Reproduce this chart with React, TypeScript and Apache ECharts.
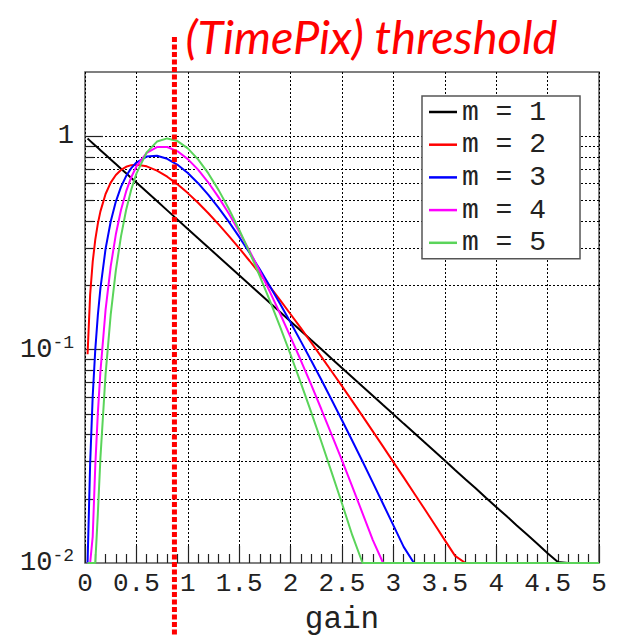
import React, { useEffect, useRef } from 'react';
import * as echarts from 'echarts';

// gain values (bin positions)
const GAIN = [
  0.025, 0.05, 0.075, 0.1, 0.125, 0.15, 0.2, 0.25, 0.3, 0.35, 0.4, 0.45,
  0.5, 0.6, 0.7, 0.8, 0.9, 1.0, 1.1, 1.2, 1.3, 1.4, 1.5, 1.6, 1.7, 1.8, 1.9,
  2.0, 2.1, 2.2, 2.3, 2.4, 2.5, 2.6, 2.7, 2.8, 2.9, 3.0, 3.1, 3.2, 3.3, 3.4,
  3.5, 3.6, 3.7, 3.8, 3.9, 4.0, 4.1, 4.2, 4.3, 4.4, 4.5, 4.6, 4.7, 4.8, 4.9, 5.0,
];

const M1 = [
  0.9753, 0.9512, 0.9277, 0.9048, 0.8825, 0.8607, 0.8187, 0.7788, 0.7408, 0.7047, 0.6703, 0.6376,
  0.6065, 0.5488, 0.4966, 0.4493, 0.4066, 0.3679, 0.3329, 0.3012, 0.2725, 0.2466, 0.2231, 0.2019, 0.1827, 0.1653, 0.1496,
  0.1353, 0.1225, 0.1108, 0.1003, 0.0907, 0.0821, 0.0743, 0.0672, 0.0608, 0.055, 0.0498, 0.045, 0.0408, 0.0369, 0.0334,
  0.0302, 0.0273, 0.0247, 0.0224, 0.0202, 0.0183, 0.0166, 0.015, 0.0136, 0.0123, 0.0111, 0.0101, 0.01, 0.01, 0.01, 0.01,
];
const M2 = [
  0.0951, 0.181, 0.2582, 0.3275, 0.3894, 0.4445, 0.5363, 0.6065, 0.6586, 0.6952, 0.7189, 0.7318,
  0.7358, 0.7229, 0.6905, 0.6461, 0.5951, 0.5413, 0.4875, 0.4355, 0.3862, 0.3405, 0.2987, 0.2609, 0.2269, 0.1967, 0.17,
  0.1465, 0.126, 0.108, 0.0925, 0.079, 0.0674, 0.0574, 0.0488, 0.0414, 0.0351, 0.0297, 0.0252, 0.0213, 0.018, 0.0152,
  0.0128, 0.0108, 0.01, 0.01, 0.01, 0.01, 0.01, 0.01, 0.01, 0.01, 0.01, 0.01, 0.01, 0.01, 0.01, 0.01,
];
const M3 = [
  0.01, 0.0291, 0.0606, 0.1, 0.145, 0.1937, 0.2964, 0.3986, 0.494, 0.5787, 0.6506, 0.7086,
  0.7531, 0.8034, 0.8101, 0.7837, 0.7349, 0.6721, 0.6024, 0.5311, 0.4618, 0.3969, 0.3374, 0.2844, 0.2379, 0.1976, 0.1631,
  0.1339, 0.1093, 0.0889, 0.072, 0.0581, 0.0467, 0.0374, 0.0299, 0.0238, 0.0189, 0.015, 0.0119, 0.01, 0.01, 0.01,
  0.01, 0.01, 0.01, 0.01, 0.01, 0.01, 0.01, 0.01, 0.01, 0.01, 0.01, 0.01, 0.01, 0.01, 0.01, 0.01,
];
const M4 = [
  0.01, 0.01, 0.0133, 0.0286, 0.0505, 0.079, 0.1534, 0.2453, 0.347, 0.4511, 0.5513, 0.6427,
  0.7218, 0.836, 0.8898, 0.8904, 0.8498, 0.7815, 0.6972, 0.6068, 0.5171, 0.433, 0.3569, 0.2905, 0.2335, 0.1859, 0.1465,
  0.1145, 0.0889, 0.0685, 0.0524, 0.0399, 0.0303, 0.0228, 0.0171, 0.0128, 0.01, 0.01, 0.01, 0.01, 0.01, 0.01,
  0.01, 0.01, 0.01, 0.01, 0.01, 0.01, 0.01, 0.01, 0.01, 0.01, 0.01, 0.01, 0.01, 0.01, 0.01, 0.01,
];
const M5 = [
  0.01, 0.01, 0.01, 0.01, 0.017, 0.0311, 0.0766, 0.1457, 0.2353, 0.3395, 0.4511, 0.5628,
  0.668, 0.8402, 0.9441, 0.9768, 0.949, 0.8773, 0.7791, 0.6693, 0.5591, 0.4561, 0.3646, 0.2863, 0.2213, 0.1687, 0.127,
  0.0946, 0.0697, 0.0509, 0.0369, 0.0265, 0.019, 0.0135, 0.01, 0.01, 0.01, 0.01, 0.01, 0.01, 0.01, 0.01,
  0.01, 0.01, 0.01, 0.01, 0.01, 0.01, 0.01, 0.01, 0.01, 0.01, 0.01, 0.01, 0.01, 0.01, 0.01, 0.01,
];

const SERIES_NAMES = ['m = 1', 'm = 2', 'm = 3', 'm = 4', 'm = 5'];
const SERIES_VALUES = [M1, M2, M3, M4, M5];
const COLORS = ['#000000', '#ff0000', '#0000ff', '#ff00ff', '#5ad45a'];

const Y_GRID = [
  0.02, 0.03, 0.04, 0.05, 0.06, 0.07, 0.08, 0.09, 0.1,
  0.2, 0.3, 0.4, 0.5, 0.6, 0.7, 0.8, 0.9, 1,
];
const Y_MAJOR = [0.1, 1];
const THRESHOLD = 0.87;
const TITLE = '(TimePix) threshold';
const X_NAME = 'gain';

const MONO = 'Liberation Mono, Courier New, monospace';

export default function App() {
  const ref = useRef<HTMLDivElement>(null);
  useEffect(() => {
    const chart = echarts.init(ref.current!, null, { renderer: 'svg' });

    const markData: any[] = [];
    Y_GRID.forEach((v) => {
      markData.push({ yAxis: v, lineStyle: { type: [2, 2], color: '#000', width: 1 } });
      const len = Y_MAJOR.includes(v) ? 0.175 : 0.085;
      markData.push([
        { coord: [0, v], lineStyle: { type: 'solid', color: '#222', width: 1.2 } },
        { coord: [len, v] },
      ]);
    });

    const series: any[] = [
      {
        type: 'line',
        data: [],
        silent: true,
        z: 1,
        markLine: {
          silent: true,
          z: 1,
          symbol: ['none', 'none'],
          label: { show: false },
          emphasis: { disabled: true },
          animation: false,
          data: markData,
        },
      },
    ];
    SERIES_VALUES.forEach((vals, i) => {
      series.push({
        type: 'line',
        name: SERIES_NAMES[i],
        data: GAIN.map((g, j) => [g, vals[j]]),
        symbol: 'none',
        showSymbol: false,
        clip: false,
        z: 3,
        lineStyle: { color: COLORS[i], width: 2 },
        itemStyle: { color: COLORS[i] },
      });
    });

    const sup = (v: number) => {
      const e = Math.round(Math.log10(v));
      if (Math.abs(Math.log10(v) - e) > 1e-6) return '';
      if (e === 0) return '{b|1}';
      if (e < 0) return '{b|10}{s|' + e + '}';
      return '';
    };

    chart.setOption({
      animation: false,
      backgroundColor: '#ffffff',
      grid: {
        left: 85,
        right: 18,
        top: 72,
        bottom: 72,
        containLabel: false,
        outerBoundsMode: 'none',
        show: true,
        borderColor: '#555',
        borderWidth: 1.5,
        backgroundColor: 'transparent',
      },
      legend: {
        data: SERIES_NAMES,
        orient: 'vertical',
        left: 422,
        top: 96,
        backgroundColor: '#ffffff',
        borderColor: '#555',
        borderWidth: 1.5,
        borderRadius: 0,
        padding: [2, 34, 2, 7],
        itemGap: 4.7,
        itemWidth: 28,
        itemHeight: 2.5,
        icon: 'rect',
        selectedMode: false,
        textStyle: { fontFamily: MONO, fontSize: 28, color: '#222', lineHeight: 28 },
        z: 10,
      },
      xAxis: {
        type: 'value',
        min: 0,
        max: 5,
        interval: 0.5,
        axisLine: { show: false },
        axisTick: { show: true, inside: true, length: 17, lineStyle: { color: '#222', width: 1.2 } },
        minorTick: { show: true, splitNumber: 5, length: 9, lineStyle: { color: '#222', width: 1.2 } },
        splitLine: { show: true, lineStyle: { type: [2, 2], color: '#000', width: 1 } },
        axisLabel: { margin: 8, fontFamily: MONO, fontSize: 26, color: '#222' },
        name: X_NAME,
        nameLocation: 'middle',
        nameGap: 44,
        nameTextStyle: { fontFamily: MONO, fontSize: 31, color: '#222', lineHeight: 24 },
      },
      yAxis: {
        type: 'log',
        logBase: 10,
        min: 0.01,
        max: 2,
        axisLine: { show: false },
        axisTick: { show: false },
        splitLine: { show: false },
        axisLabel: {
          margin: 11,
          formatter: sup,
          showMaxLabel: false,
          rich: {
            b: { fontFamily: MONO, fontSize: 27, color: '#222', lineHeight: 32 },
            s: { fontFamily: MONO, fontSize: 18, color: '#222', lineHeight: 16, verticalAlign: 'top' },
          },
        },
      },
      series,
    });

    const px = chart.convertToPixel({ xAxisIndex: 0 }, THRESHOLD) as number;
    chart.setOption({
      graphic: [
        {
          type: 'line',
          z: 100,
          shape: { x1: px, y1: 37, x2: px, y2: 635 },
          style: { stroke: '#ff0000', lineWidth: 5, lineDash: [5, 2.5] },
        },
        {
          type: 'text',
          z: 100,
          x: px + 11,
          y: 36,
          style: {
            text: TITLE,
            fill: '#ff0000',
            fontFamily: 'Lato, Open Sans, sans-serif',
            fontStyle: 'italic',
            fontSize: 47,
            verticalAlign: 'middle',
            align: 'left',
          },
        },
      ],
    });

    return () => chart.dispose();
  }, []);
  return <div ref={ref} style={{ position: 'absolute', left: 0, top: 0, width: 617, height: 635 }} />;
}
